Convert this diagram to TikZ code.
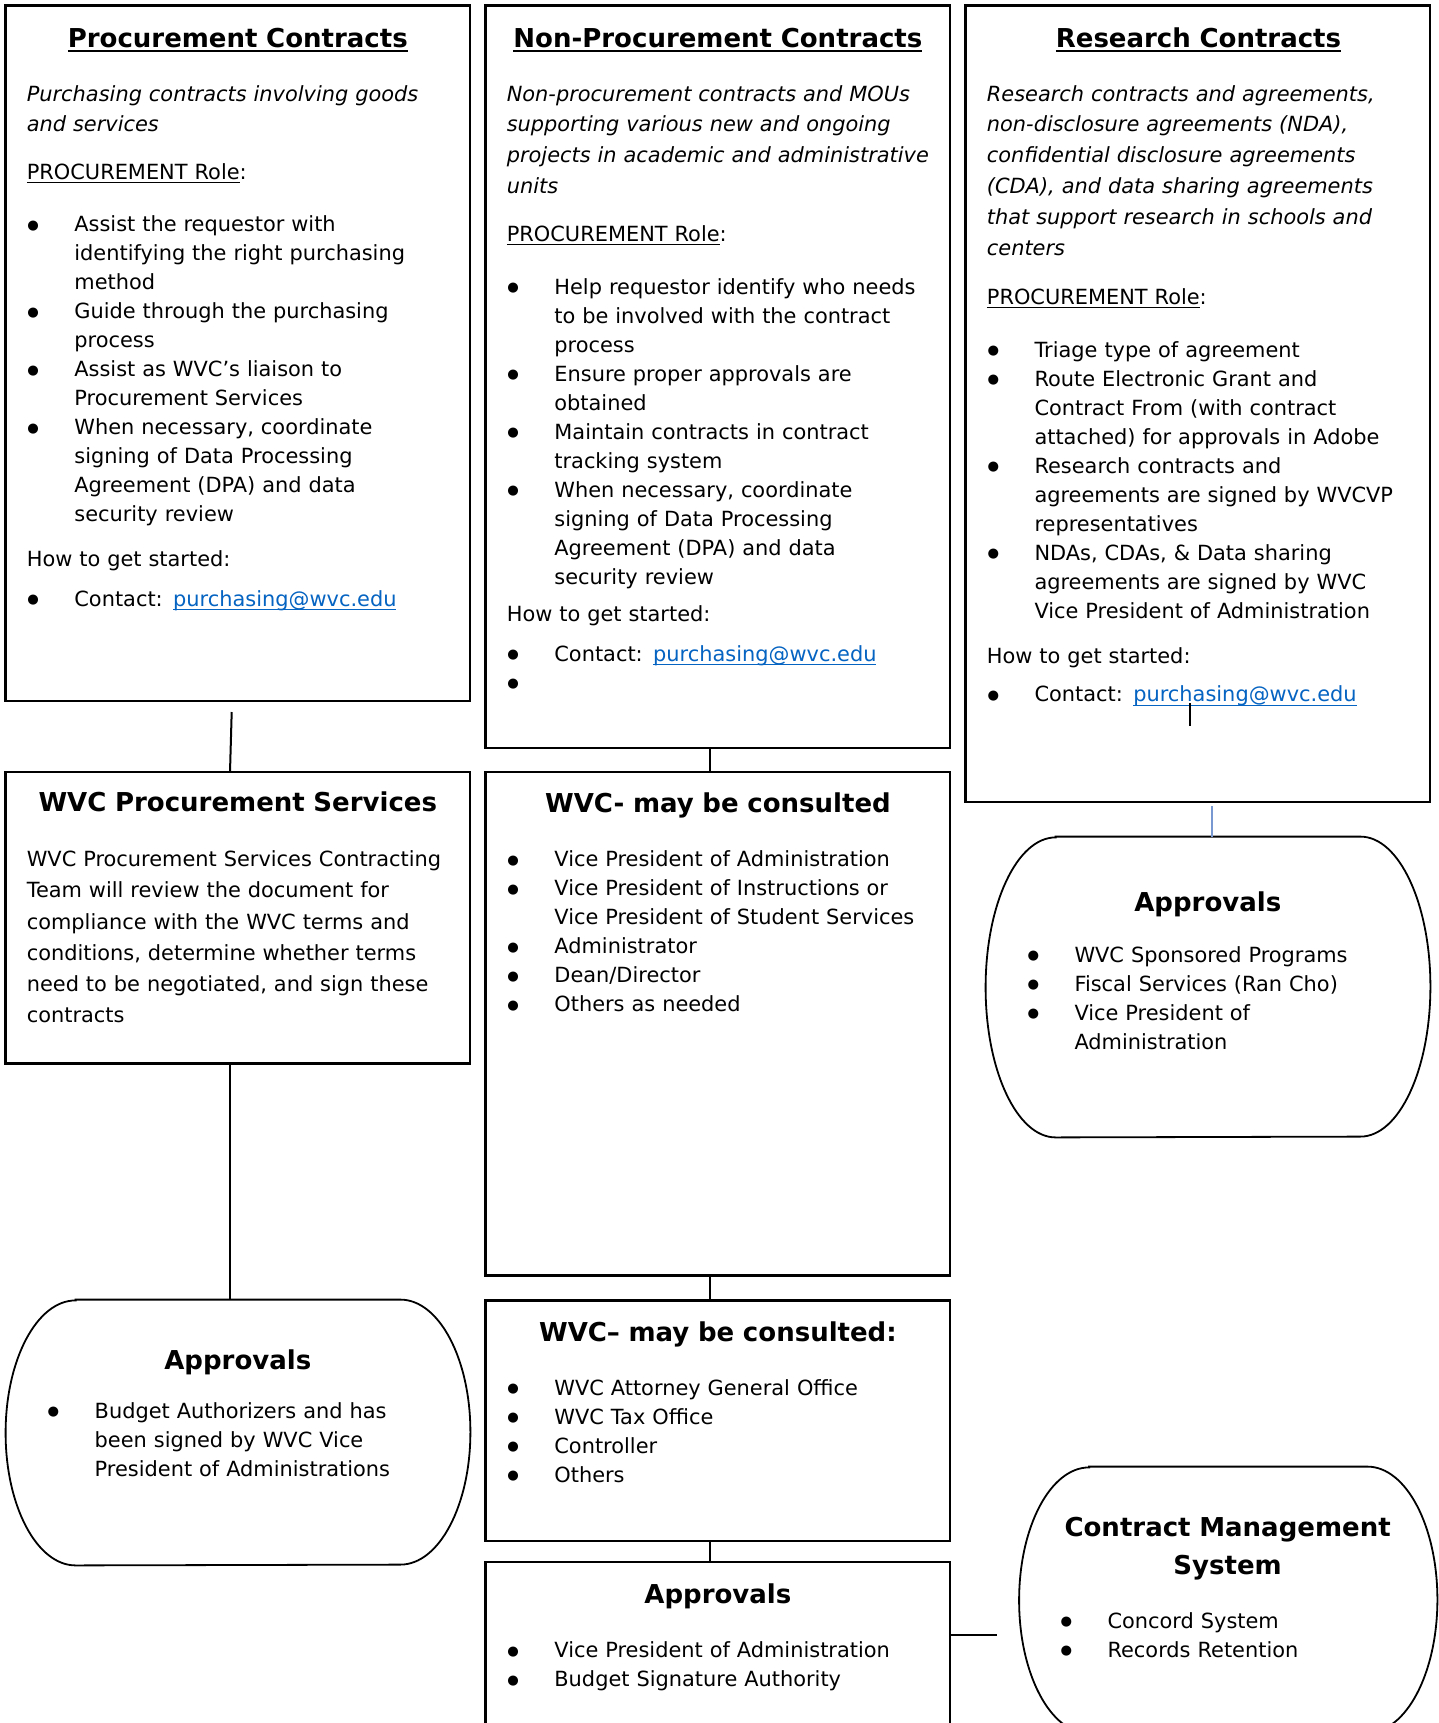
\documentclass[tikz,border=0pt]{standalone}
\usepackage{fontspec}
\setmainfont{DejaVu Sans}
\usetikzlibrary{fit}
\definecolor{linkblue}{HTML}{0563C1}
\definecolor{connblue}{RGB}{120,152,210}
\newlength\bulind \setlength\bulind{23.8pt}
\newsavebox\ulbox
\newcommand\ulfix[3]{\sbox\ulbox{#3}\rlap{\rule[-#1]{\wd\ulbox}{#2}}\usebox\ulbox}
\newcommand\bulmark{\raisebox{1.3pt}{\fontsize{6.6}{6.6}\selectfont ●}}
\newcommand\bitem[1]{\begingroup\let\\\newline\hangindent\bulind\hangafter1
  \makebox[\bulind][l]{\hspace{0.3pt}\bulmark}#1\par\endgroup}
\newcommand\mylink{{\color{linkblue}\ulfix{1.9pt}{0.55pt}{purchasing@wvc.edu}}}
\newcommand\bodyfont{\fontsize{10.45}{14.5}\selectfont}
\newcommand\ovalbox[6]{% name, x1, y1, x2, y2, y radius
  \node[fit={(#2,#3) (#4,#5)}, inner sep=0pt] (#1) {};
  \draw[ovalline] ([xshift=35pt]#1.north west) -- ([xshift=-35pt]#1.north east)
     arc[start angle=90, end angle=-90, x radius=35pt, y radius=#6]
     -- ([xshift=35pt]#1.south west)
     arc[start angle=270, end angle=90, x radius=35pt, y radius=#6] -- cycle;}
\tikzset{
  box/.style={draw, line width=1.3pt, inner sep=0pt},
  ovalline/.style={line width=0.9pt},
  conn/.style={line width=1pt},
  blueconn/.style={line width=1.1pt, draw=connblue},
  ttl/.style={anchor=base, inner sep=0pt, text width=230pt, align=center, yshift=-1.1pt,
              font=\bfseries\fontsize{13}{18.7}\selectfont},
  txt/.style={anchor=base west, inner sep=0pt, text width=300pt, align=left, yshift=-1.1pt,
              font=\bodyfont},
  itx/.style={anchor=base west, inner sep=0pt, text width=300pt, align=left, yshift=-1.1pt,
              font=\fontsize{10.45}{15.45}\selectfont\itshape},
  ptx/.style={anchor=base west, inner sep=0pt, text width=300pt, align=left, yshift=-1.1pt,
              font=\fontsize{10.45}{15.6}\selectfont},
}
\begin{document}
\begin{tikzpicture}[x=0.5pt, y=-0.5pt]
\path[use as bounding box] (0,0) rectangle (1439,1723);
\clip (0,0) rectangle (1439,1723);

% ---------- boxes ----------
\node[box, fit={(5.5,5.5) (470,701)}] (b1) {};
\node[box, fit={(485.5,5.5) (950,748)}] (b2) {};
\node[box, fit={(965.5,5.5) (1430,802)}] (b3) {};
\node[box, fit={(5.5,772) (470,1063.5)}] (b4) {};
\node[box, fit={(485.5,772) (950,1275.5)}] (b5) {};
\node[box, fit={(485.5,1300.5) (950,1541)}] (b8) {};
\node[box, fit={(485.5,1562) (950,1745)}] (b9) {};
\ovalbox{b6}{986}{837}{1430}{1137}{75pt}
\ovalbox{b7}{6}{1300}{470}{1565}{66.25pt}
\ovalbox{b10}{1019.5}{1467}{1437}{1733}{66.5pt}

% ---------- box 1 ----------
\node[ttl] (t1) at (237.8,45) {\ulfix{2.2pt}{1pt}{Procurement Contracts}};
\node[itx] (d1) at (26.4,98.9) {Purchasing contracts involving goods\\and services};
\node[txt] (r1) at (26.4,176.9) {\ulfix{1.8pt}{0.55pt}{PROCUREMENT Role}:};
\node[txt] (l1) at (26.4,229.6) {%
\bitem{Assist the requestor with\\identifying the right purchasing\\method}%
\bitem{Guide through the purchasing\\process}%
\bitem{Assist as WVC’s liaison to\\Procurement Services}%
\bitem{When necessary, coordinate\\signing of Data Processing\\Agreement (DPA) and data\\security review}};
\node[txt] (h1) at (26.4,564.6) {How to get started:};
\node[txt] (k1) at (26.4,604.2) {\bitem{Contact: \mylink}};

% ---------- box 2 ----------
\node[ttl] (t2) at (717.9,45) {\ulfix{2.2pt}{1pt}{Non-Procurement Contracts}};
\node[itx] (d2) at (506.4,98.9) {Non-procurement contracts and MOUs\\supporting various new and ongoing\\projects in academic and administrative\\units};
\node[txt] (r2) at (506.4,239.5) {\ulfix{1.8pt}{0.55pt}{PROCUREMENT Role}:};
\node[txt] (l2) at (506.4,292.2) {%
\bitem{Help requestor identify who needs\\to be involved with the contract\\process}%
\bitem{Ensure proper approvals are\\obtained}%
\bitem{Maintain contracts in contract\\tracking system}%
\bitem{When necessary, coordinate\\signing of Data Processing\\Agreement (DPA) and data\\security review}};
\node[txt] (h2) at (506.4,619.6) {How to get started:};
\node[txt] (k2) at (506.4,659.1) {\bitem{Contact: \mylink}\bitem{}};

% ---------- box 3 ----------
\node[ttl] (t3) at (1198.5,45) {\ulfix{2.2pt}{1pt}{Research Contracts}};
\node[itx] (d3) at (986.5,98.9) {Research contracts and agreements,\\non-disclosure agreements (NDA),\\confidential disclosure agreements\\(CDA), and data sharing agreements\\that support research in schools and\\centers};
\node[txt] (r3) at (986.5,302.1) {\ulfix{1.8pt}{0.55pt}{PROCUREMENT Role}:};
\node[txt] (l3) at (986.5,354.8) {%
\bitem{Triage type of agreement}%
\bitem{Route Electronic Grant and\\Contract From (with contract\\attached) for approvals in Adobe}%
\bitem{Research contracts and\\agreements are signed by WVCVP\\representatives}%
\bitem{NDAs, CDAs, \& Data sharing\\agreements are signed by WVC\\Vice President of Administration}};
\node[txt] (h3) at (986.5,661.3) {How to get started:};
\node[txt] (k3) at (986.5,699.7) {\bitem{Contact: \mylink}};

% ---------- box 4 ----------
\node[ttl] (t4) at (237.8,809.6) {WVC Procurement Services};
\node[ptx] (d4) at (26.4,864.5) {WVC Procurement Services Contracting\\Team will review the document for\\compliance with the WVC terms and\\conditions, determine whether terms\\need to be negotiated, and sign these\\contracts};

% ---------- box 5 ----------
\node[ttl] (t5) at (717.9,810.7) {WVC- may be consulted};
\node[txt] (l5) at (506.4,864.5) {%
\bitem{Vice President of Administration}%
\bitem{Vice President of Instructions or\\Vice President of Student Services}%
\bitem{Administrator}%
\bitem{Dean/Director}%
\bitem{Others as needed}};

% ---------- box 6 ----------
\node[ttl] (t6) at (1207.8,909.6) {Approvals};
\node[txt] (l6) at (1026.5,960.1) {%
\bitem{WVC Sponsored Programs}%
\bitem{Fiscal Services (Ran Cho)}%
\bitem{Vice President of\\Administration}};

% ---------- box 7 ----------
\node[ttl] (t7) at (237.8,1367.6) {Approvals};
\node[txt] (l7) at (46.7,1416) {%
\bitem{Budget Authorizers and has\\been signed by WVC Vice\\President of Administrations}};

% ---------- box 8 ----------
\node[ttl] (t8) at (717.9,1339.1) {WVC– may be consulted:};
\node[txt] (l8) at (506.4,1392.9) {%
\bitem{WVC Attorney General Office}%
\bitem{WVC Tax Office}%
\bitem{Controller}%
\bitem{Others}};

% ---------- box 9 ----------
\node[ttl] (t9) at (717.9,1601.6) {Approvals};
\node[txt] (l9) at (506.4,1655.4) {%
\bitem{Vice President of Administration}%
\bitem{Budget Signature Authority}};

% ---------- box 10 ----------
\node[ttl] (t10) at (1227.6,1534.6) {Contract Management\\System};
\node[txt] (l10) at (1059.5,1625.8) {%
\bitem{Concord System}%
\bitem{Records Retention}};

% ---------- connectors ----------
\coordinate (c1a) at (231.7,712);
\coordinate (c1b) at (230,772);
\draw[conn] (c1a) -- (c1b);
\draw[conn] ([xshift=-4.07pt]b2.south) -- ([xshift=-4.07pt]b5.north);
\draw[conn] ([xshift=-4.07pt]b4.south) -- ([xshift=-4.07pt]b4.south |- b7.north);
\draw[conn] ([xshift=-4.07pt]b5.south) -- ([xshift=-4.07pt]b8.north);
\draw[conn] ([xshift=-4.07pt]b8.south) -- ([xshift=-4.07pt]b9.north);
\coordinate (c8) at (997,1635);
\draw[conn] (b9.north east |- c8) -- (c8);
\coordinate (c3a) at (1190,703);
\coordinate (c3b) at (1190,726);
\draw[line width=1.2pt] (c3a) -- (c3b);
\coordinate (c4a) at (1211.7,806);
\draw[blueconn] (c4a) -- (c4a |- b6.north);
\end{tikzpicture}
\end{document}
